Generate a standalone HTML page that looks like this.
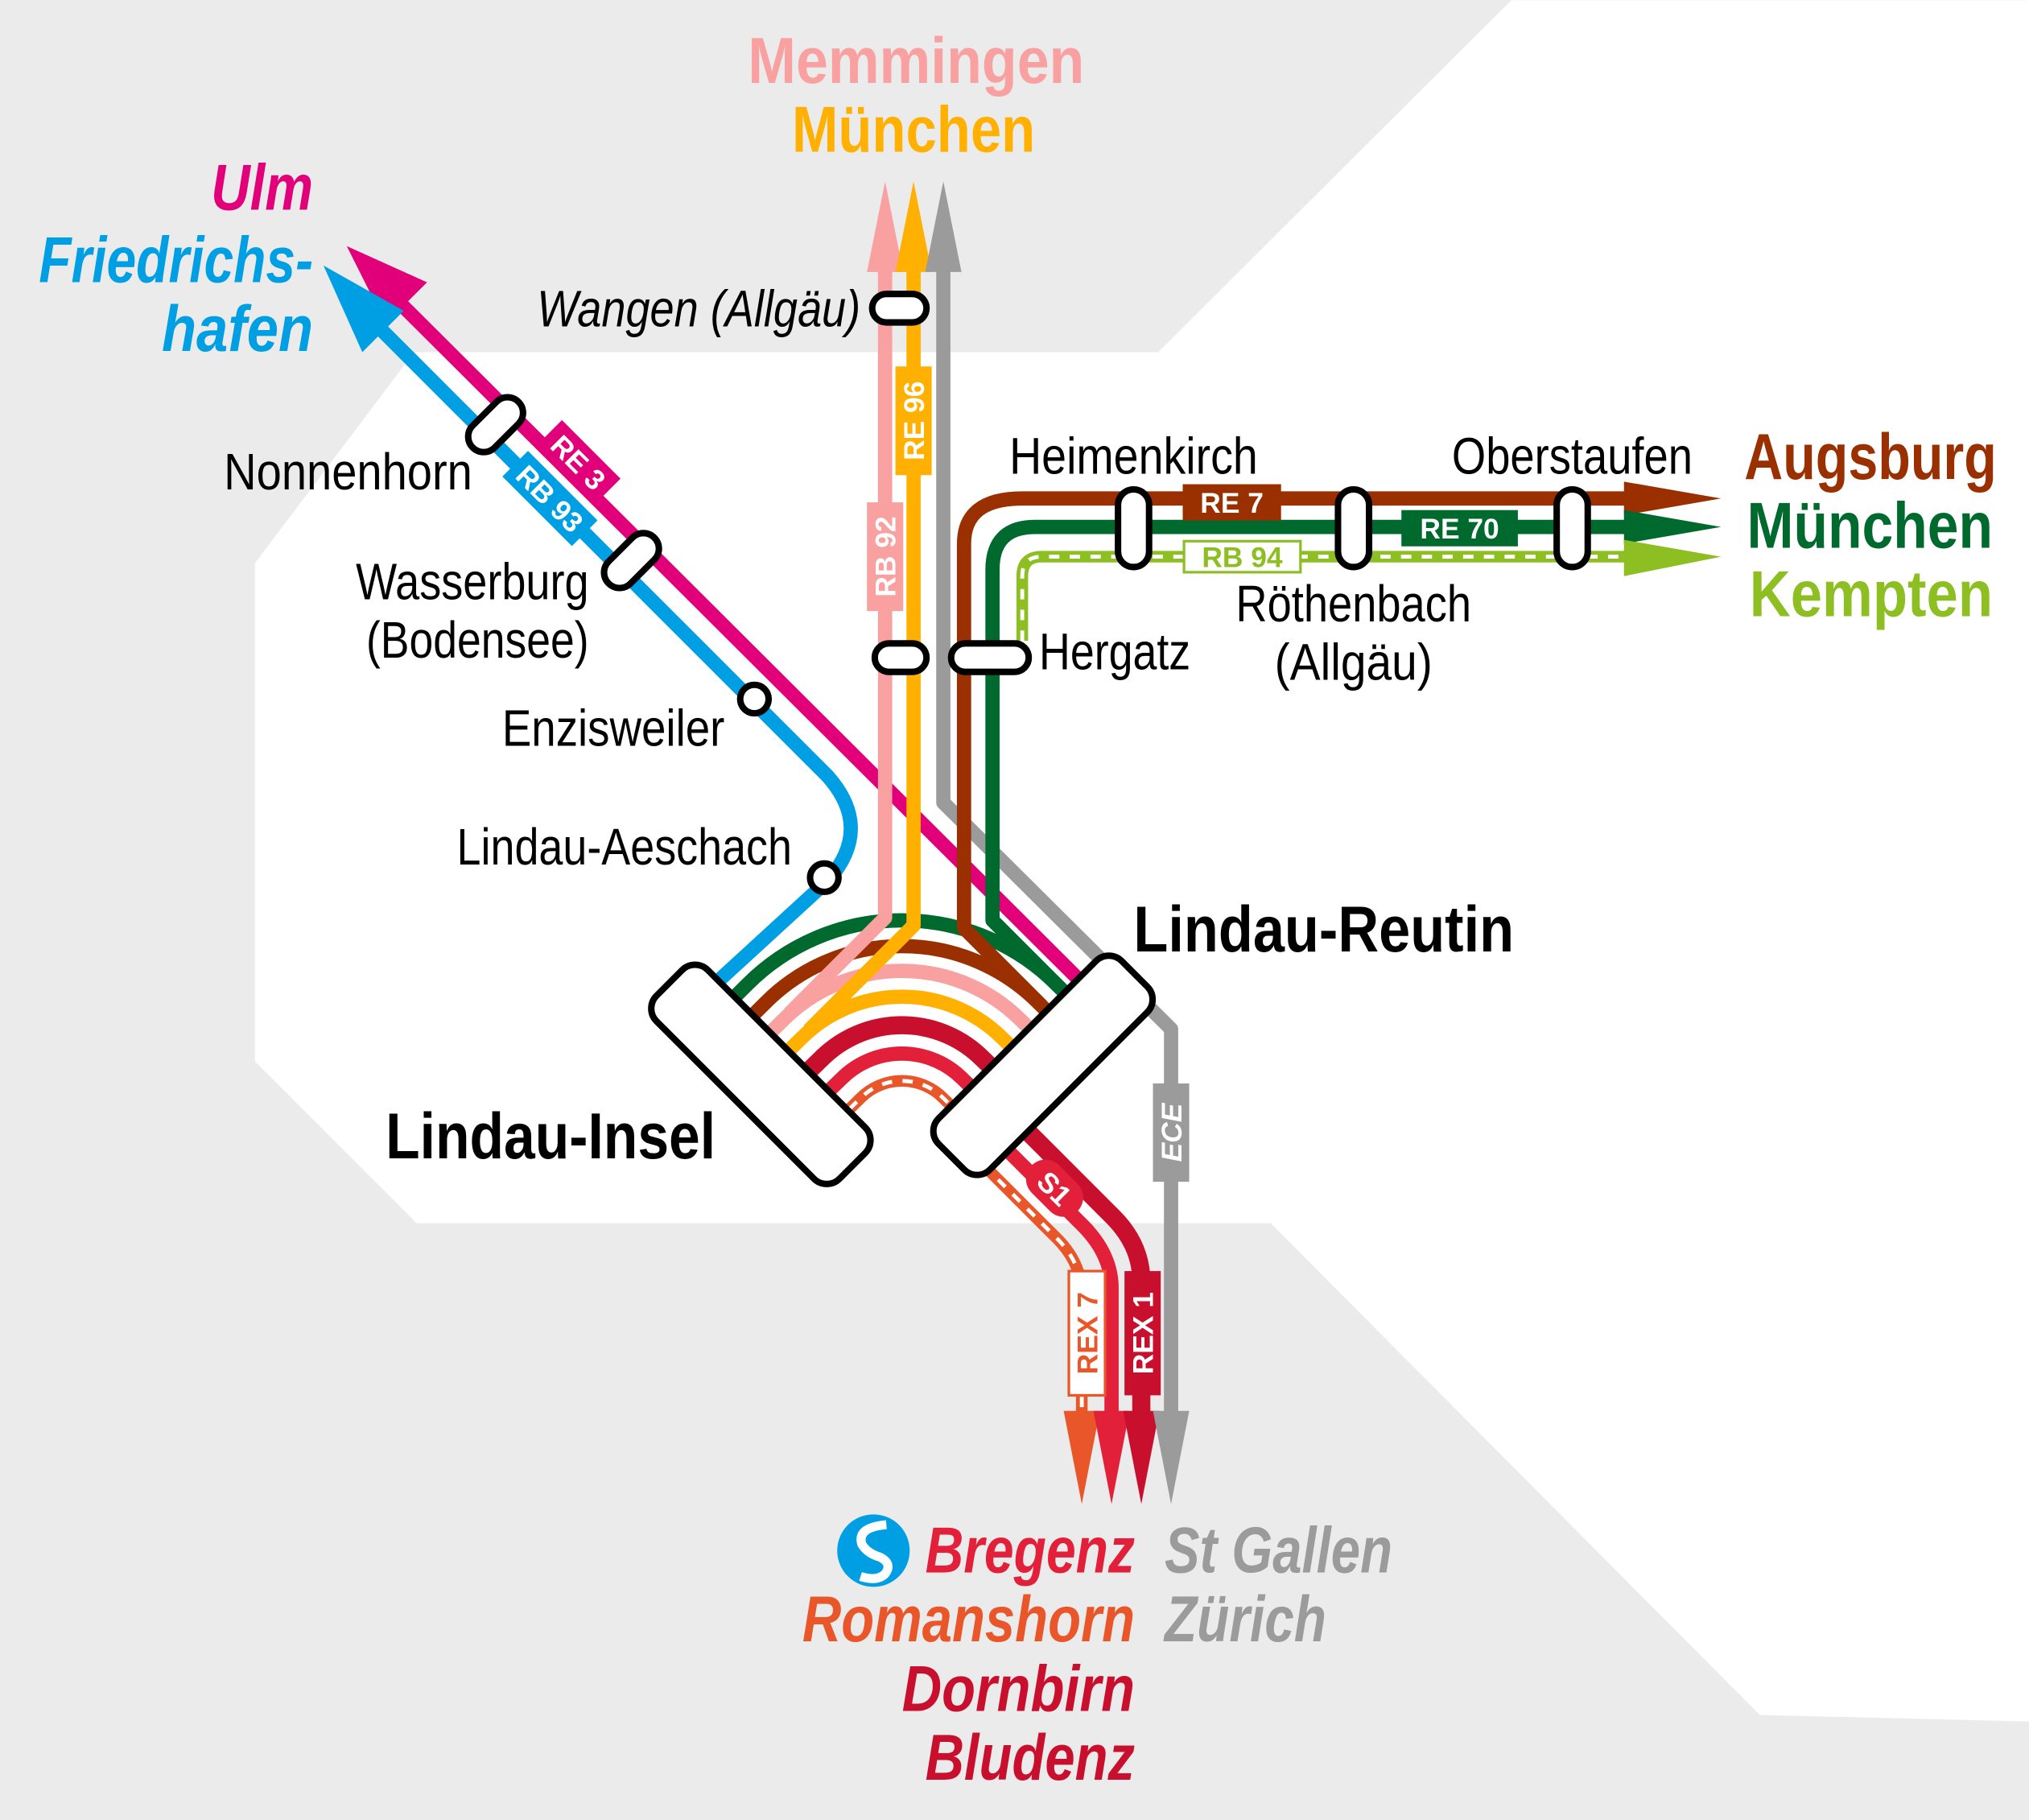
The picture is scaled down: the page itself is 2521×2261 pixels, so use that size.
<!DOCTYPE html>
<html><head><meta charset="utf-8"><style>html,body{margin:0;padding:0;background:#ebebeb}svg{display:block}
text{font-family:"Liberation Sans",sans-serif}</style></head><body>
<svg width="2521" height="2261" viewBox="0 0 1568 1406" xmlns="http://www.w3.org/2000/svg">
<rect width="1568" height="1406" fill="#ebebeb"/>
<polygon points="1168,0 1568,0 1568,1330 1360,1325 982,945 322,945 197,820 197,435 320,272 895,272" fill="#fff"/>
<g fill="none" stroke-width="11" stroke-linecap="butt" stroke-linejoin="round">
<path d="M729,200 V620 L905,795 V1095" stroke="#9b9b9b"/>
<path d="M285,245 L640,600 Q675,640 640,680 L545,767" stroke="#009fe3"/>
<path d="M300,225 L845,768" stroke="#e2007a"/>
<!-- arcs -->
<path d="M555,783 L577.5,760.5 A169,169 0 0 1 816.5,760.5 L837,781" stroke="#006a2e"/>
<path d="M1260,407 H800 Q767,407 767,440 V711 L820,764" stroke="#006a2e"/>
<path d="M570,796 L591.6,774.6 A149,149 0 0 1 802.4,774.6 L822,794" stroke="#9a3000"/>
<path d="M1260,385 H790 Q745,385 745,420 V717 L805,777" stroke="#9a3000"/>
<path d="M585,808 L605.1,788.1 A130,130 0 0 1 788.9,788.1 L809,808" stroke="#f9a0a0"/>
<path d="M684,200 V709 L610,783" stroke="#f9a0a0"/>
<path d="M599,822 L619.2,802.2 A110,110 0 0 1 774.8,802.2 L795,822" stroke="#ffb000"/>
<path d="M706,200 V715 L625,796" stroke="#ffb000"/>
<path d="M615,837 L634.8,817.8 A88,88 0 0 1 759.2,817.8 L779,837" stroke="#c8102e" stroke-width="14"/>
<path d="M630,853 L650.3,833.3 A66,66 0 0 1 743.7,833.3 L764,853" stroke="#e3203a"/>
<path d="M790,870 L860,940 Q882,962 882,990 V1095" stroke="#c8102e" stroke-width="14"/>
<path d="M775,885 L838,948 Q859,970 859,995 V1095" stroke="#e3203a"/>
<path d="M645,868 L665.2,848.2 A45,45 0 0 1 728.8,848.2 L749,868 M760,900 L815,955 Q836,975 836,1000 V1095" stroke="#e8562a" stroke-width="9"/>
<path d="M645,868 L665.2,848.2 A45,45 0 0 1 728.8,848.2 L749,868 M760,900 L815,955 Q836,975 836,1000 V1095" stroke="#fff" stroke-width="3" stroke-dasharray="8,8"/>
<path d="M790,495 V445 Q790,430 805,430 H1260" stroke="#8dbe22" stroke-width="9"/>
<path d="M790,495 V445 Q790,430 805,430 H1260" stroke="#fff" stroke-width="3" stroke-dasharray="8,8"/>
</g>
<polygon points="684,140 670,210 698,210" fill="#f9a0a0"/>
<polygon points="706,140 692,210 720,210" fill="#ffb000"/>
<polygon points="729,140 715,210 743,210" fill="#9b9b9b"/>
<polygon points="268,190 330,218 298,250" fill="#e2007a"/>
<polygon points="250,205 280,272 312,240" fill="#009fe3"/>
<polygon points="1330,385 1255,372 1255,398" fill="#9a3000"/>
<polygon points="1330,407 1255,394 1255,420" fill="#006a2e"/>
<polygon points="1330,430 1255,417 1255,445" fill="#8dbe22"/>
<polygon points="836,1162 822,1090 850,1090" fill="#e8562a"/>
<polygon points="859,1162 845,1090 873,1090" fill="#e3203a"/>
<polygon points="882,1162 868,1090 896,1090" fill="#c8102e"/>
<polygon points="905,1162 891,1090 919,1090" fill="#9b9b9b"/>
<g fill="#fff" stroke="#000" stroke-width="5">
<rect x="-12" y="-25" width="24" height="50" rx="12" transform="translate(383,328) rotate(45)"/>
<rect x="-12" y="-25" width="24" height="50" rx="12" transform="translate(488,433) rotate(45)"/>
<circle cx="583" cy="540" r="11"/><circle cx="637" cy="678" r="11"/>
<rect x="674" y="227" width="42" height="22" rx="11"/>
<rect x="676" y="497" width="40" height="22" rx="11"/>
<rect x="735" y="497" width="60" height="22" rx="11"/>
<rect x="864" y="378" width="24" height="60" rx="12"/>
<rect x="1034" y="378" width="24" height="60" rx="12"/>
<rect x="1203" y="378" width="24" height="60" rx="12"/>
<rect x="-100" y="-28" width="200" height="56" rx="14" transform="translate(588,830) rotate(45)"/>
<rect x="-100" y="-28" width="200" height="56" rx="14" transform="translate(806,823) rotate(-45)"/>
</g>
<g font-weight="bold" font-size="22" text-anchor="middle" fill="#fff">
<g transform="translate(447,357) rotate(45)"><rect x="-32" y="-14" width="64" height="28" fill="#e2007a"/><text y="8">RE 3</text></g>
<g transform="translate(425,385) rotate(45)"><rect x="-38" y="-14" width="76" height="28" fill="#009fe3"/><text y="8">RB 93</text></g>
<g transform="translate(684,430) rotate(-90)"><rect x="-42" y="-14" width="84" height="28" fill="#f9a0a0"/><text y="8">RB 92</text></g>
<g transform="translate(706,325) rotate(-90)"><rect x="-42" y="-14" width="84" height="28" fill="#ffb000"/><text y="8">RE 96</text></g>
<g transform="translate(952,388)"><rect x="-38" y="-14" width="76" height="28" fill="#9a3000"/><text y="8">RE 7</text></g>
<g transform="translate(1128,408)"><rect x="-45" y="-14" width="90" height="28" fill="#006a2e"/><text y="8">RE 70</text></g>
<g transform="translate(960,430)"><rect x="-45" y="-12" width="90" height="24" fill="#fff" stroke="#8dbe22" stroke-width="2"/><text y="8" fill="#8dbe22">RB 94</text></g>
<g transform="translate(905,875) rotate(-90)"><rect x="-38" y="-14" width="76" height="28" fill="#9b9b9b"/><text y="8" font-style="italic">ECE</text></g>
<g transform="translate(815,918) rotate(45)"><rect x="-25" y="-15" width="50" height="30" rx="15" fill="#e3203a"/><text y="8">S1</text></g>
<g transform="translate(840,1030) rotate(-90)"><rect x="-48" y="-14" width="96" height="28" fill="#fff" stroke="#e8562a" stroke-width="2"/><text y="8" fill="#e8562a">REX 7</text></g>
<g transform="translate(883,1030) rotate(-90)"><rect x="-48" y="-14" width="96" height="28" fill="#c8102e"/><text y="8">REX 1</text></g>
</g>
<g font-size="40">
<text x="665" y="252" text-anchor="end" font-style="italic" textLength="250" lengthAdjust="spacingAndGlyphs">Wangen (Allgäu)</text>
<text x="365" y="378" text-anchor="end" textLength="192" lengthAdjust="spacingAndGlyphs">Nonnenhorn</text>
<text x="455" y="463" text-anchor="end" textLength="180" lengthAdjust="spacingAndGlyphs">Wasserburg</text>
<text x="455" y="508" text-anchor="end" textLength="172" lengthAdjust="spacingAndGlyphs">(Bodensee)</text>
<text x="560" y="576" text-anchor="end" textLength="172" lengthAdjust="spacingAndGlyphs">Enzisweiler</text>
<text x="612" y="668" text-anchor="end" textLength="259" lengthAdjust="spacingAndGlyphs">Lindau-Aeschach</text>
<text x="780" y="366" textLength="192" lengthAdjust="spacingAndGlyphs">Heimenkirch</text>
<text x="1122" y="366" textLength="186" lengthAdjust="spacingAndGlyphs">Oberstaufen</text>
<text x="955" y="480" textLength="182" lengthAdjust="spacingAndGlyphs">Röthenbach</text>
<text x="985" y="525" textLength="122" lengthAdjust="spacingAndGlyphs">(Allgäu)</text>
<text x="803" y="517" textLength="117" lengthAdjust="spacingAndGlyphs">Hergatz</text>
</g>
<g font-weight="bold" font-size="50">
<text x="876" y="735" textLength="294" lengthAdjust="spacingAndGlyphs">Lindau-Reutin</text>
<text x="298" y="895" textLength="255" lengthAdjust="spacingAndGlyphs">Lindau-Insel</text>
<text x="578" y="64" fill="#f9a0a0" textLength="260" lengthAdjust="spacingAndGlyphs">Memmingen</text>
<text x="612" y="117" fill="#ffb000" textLength="188" lengthAdjust="spacingAndGlyphs">München</text>
<text x="1348" y="370" fill="#9a3000" textLength="195" lengthAdjust="spacingAndGlyphs">Augsburg</text>
<text x="1350" y="423" fill="#006a2e" textLength="190" lengthAdjust="spacingAndGlyphs">München</text>
<text x="1352" y="476" fill="#8dbe22" textLength="188" lengthAdjust="spacingAndGlyphs">Kempten</text>
</g>
<g font-weight="bold" font-style="italic" font-size="50">
<text x="163" y="162" fill="#e2007a" textLength="79" lengthAdjust="spacingAndGlyphs">Ulm</text>
<text x="30" y="218" fill="#009fe3" textLength="212" lengthAdjust="spacingAndGlyphs">Friedrichs-</text>
<text x="125" y="271" fill="#009fe3" textLength="117" lengthAdjust="spacingAndGlyphs">hafen</text>
<text x="715" y="1215" fill="#e3203a" textLength="162" lengthAdjust="spacingAndGlyphs">Bregenz</text>
<text x="620" y="1268" fill="#e8562a" textLength="257" lengthAdjust="spacingAndGlyphs">Romanshorn</text>
<text x="697" y="1322" fill="#c8102e" textLength="180" lengthAdjust="spacingAndGlyphs">Dornbirn</text>
<text x="715" y="1375" fill="#c8102e" textLength="162" lengthAdjust="spacingAndGlyphs">Bludenz</text>
<text x="900" y="1215" fill="#9b9b9b" textLength="176" lengthAdjust="spacingAndGlyphs">St Gallen</text>
<text x="900" y="1268" fill="#9b9b9b" textLength="125" lengthAdjust="spacingAndGlyphs">Zürich</text>
</g>
<circle cx="675" cy="1198" r="28" fill="#009fe3"/>
<path d="M685,1178 Q662,1180 666,1193 Q670,1200 680,1203 Q690,1208 684,1216 Q678,1222 665,1218" fill="none" stroke="#fff" stroke-width="7"/>
</svg>
</body></html>
